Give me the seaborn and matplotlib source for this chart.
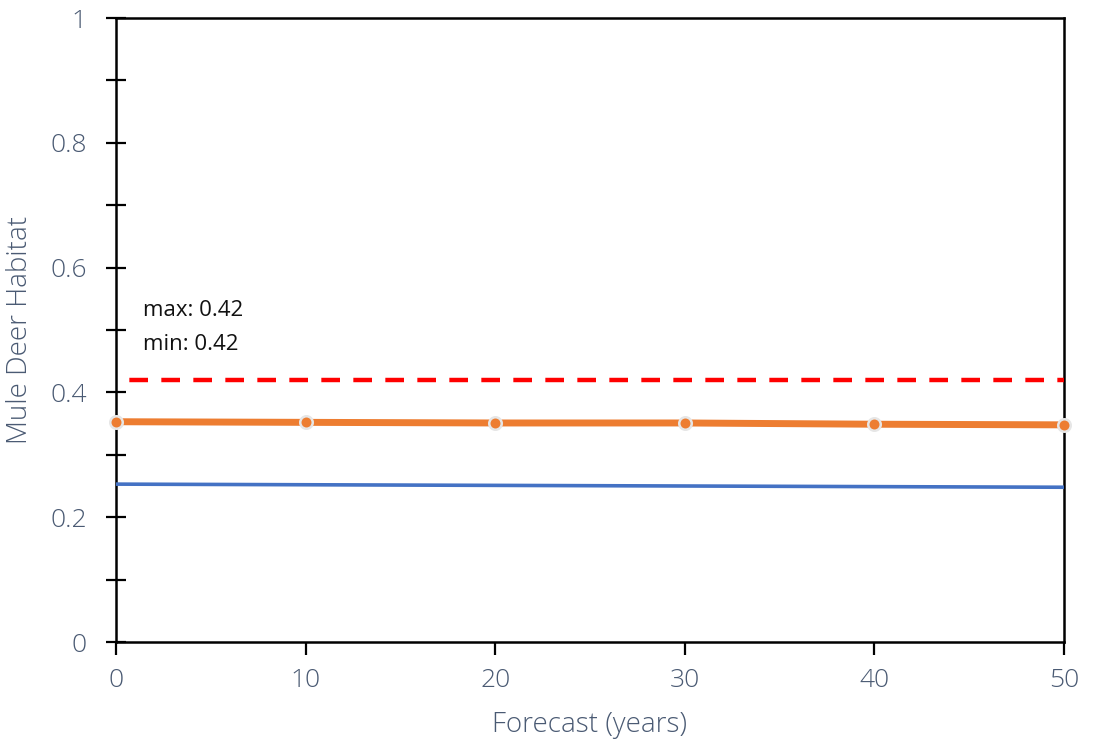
import matplotlib
matplotlib.use("Agg")
import matplotlib.pyplot as plt
from matplotlib.ticker import MultipleLocator
import seaborn as sns
import pandas as pd

# Forecast years and habitat index series
years = [0, 10, 20, 30, 40, 50]
habitat_main = [0.353, 0.352, 0.351, 0.351, 0.349, 0.348]
habitat_low = [0.253, 0.252, 0.251, 0.250, 0.249, 0.248]
threshold = [0.42, 0.42, 0.42, 0.42, 0.42, 0.42]
note_lines = ["max: 0.42", "min: 0.42"]

sns.set_theme(style="white")
plt.rcParams["font.family"] = ["Open Sans", "DejaVu Sans"]
plt.rcParams["font.weight"] = "light"

df = pd.DataFrame({"year": years, "main": habitat_main,
                   "low": habitat_low, "thr": threshold})

fig = plt.figure(figsize=(10.93, 7.42), dpi=100)
ax = fig.add_axes([116 / 1093, 1 - 642 / 742, 948 / 1093, 624 / 742])

label_col = "#4a5a73"

sns.lineplot(data=df, x="year", y="low", ax=ax, color="#4472C4",
             linewidth=2.6, zorder=3)
sns.lineplot(data=df, x="year", y="main", ax=ax, color="#ED7D31",
             linewidth=5.0, marker="o", markersize=9,
             markerfacecolor="#ED7D31", markeredgecolor="#e6e6e6",
             markeredgewidth=1.8, zorder=4, clip_on=False)
thr_line, = ax.plot(df["year"], df["thr"], color="#ff0000", linewidth=3.2,
                    zorder=3)
# dash pattern begins in a gap at the left axis
thr_line.set_linestyle((4.2, (4.2, 3.0)))
thr_line.set_dash_capstyle("butt")

ax.text(1.4, 0.532, note_lines[0], fontsize=16, color="#111111",
        fontweight="normal", va="center", ha="left")
ax.text(1.4, 0.477, note_lines[1], fontsize=16, color="#111111",
        fontweight="normal", va="center", ha="left")

ax.set_xlim(0, 50)
ax.set_ylim(0, 1)
ax.xaxis.set_major_locator(MultipleLocator(10))
ax.yaxis.set_minor_locator(MultipleLocator(0.1))
ax.set_yticks([0, 0.2, 0.4, 0.6, 0.8, 1.0])
ax.set_yticklabels(["0", "0.2", "0.4", "0.6", "0.8", "1"])

for s in ax.spines.values():
    s.set_visible(True)
    s.set_color("black")
    s.set_linewidth(1.8)

ax.tick_params(axis="y", which="both", direction="inout", length=14,
               width=1.6, color="black", left=True, labelsize=19,
               labelcolor=label_col, pad=14)
ax.tick_params(axis="x", which="major", direction="out", length=9,
               width=1.6, color="black", bottom=True, labelsize=19,
               labelcolor=label_col, pad=10)

ax.set_xlabel("Forecast (years)", fontsize=20, color=label_col,
              fontweight="light", labelpad=13)
ax.set_ylabel("Mule Deer Habitat", fontsize=20, color=label_col,
              fontweight="light", labelpad=12)

fig.savefig("out.png", dpi=100, facecolor="white")
